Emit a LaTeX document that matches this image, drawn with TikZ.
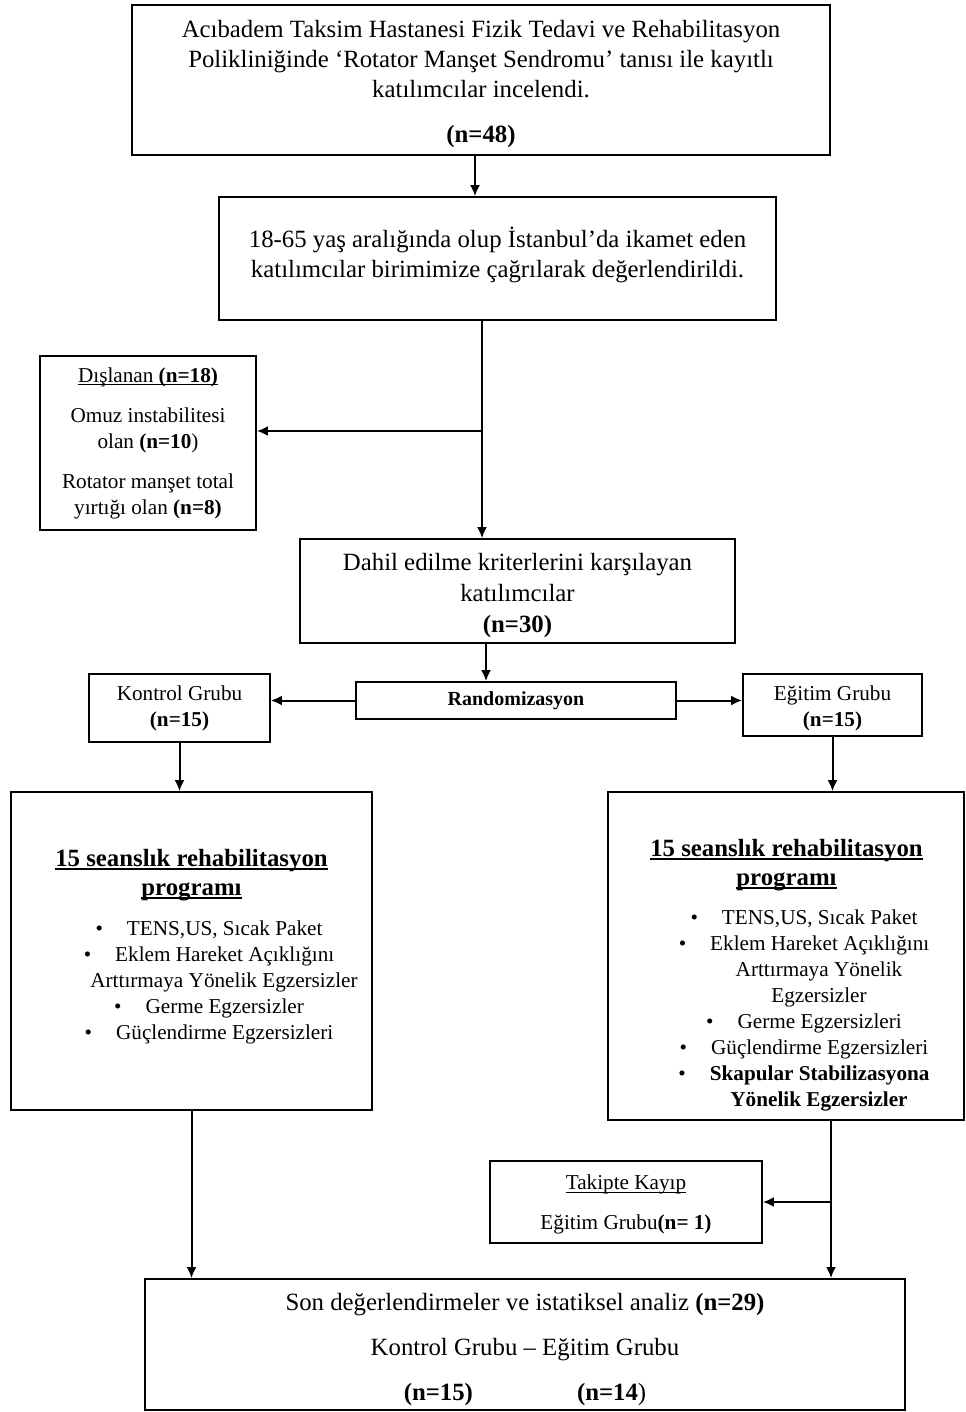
\documentclass[tikz,border=0pt]{standalone}
\usepackage{fontspec}
\setmainfont{Liberation Serif}
\usetikzlibrary{arrows.meta,calc}

\newcommand{\itm}{\textbullet\hspace{12pt}}
\newcommand{\cnt}{\hspace*{15pt}}
\newcommand{\uln}[1]{\setbox0\hbox{#1}\rlap{\rule[-1.6pt]{\wd0}{0.55pt}}\box0}

\begin{document}
\begin{tikzpicture}[x=0.5pt,y=-0.5pt,
  box/.style={draw, line width=0.9pt, inner sep=0pt, align=center},
  flow/.style={-{Latex[length=5.5pt,width=5pt]}, line width=1pt},
  big/.style={font=\fontsize{12.4}{15}\selectfont},
  small/.style={font=\fontsize{10.6}{13}\selectfont}]
  \useasboundingbox (0,0) rectangle (965,1412);

  % registered patients
  \node[box, big, minimum width=349pt, minimum height=75pt] (top) at (481,80)
    {\rule{0pt}{13pt}Acıbadem Taksim Hastanesi Fizik Tedavi ve Rehabilitasyon\\
     Polikliniğinde ‘Rotator Manşet Sendromu’ tanısı ile kayıtlı\\
     katılımcılar incelendi.\\[7.5pt]
     \textbf{(n=48)}};

  \node[box, big, minimum width=278.5pt, minimum height=61.5pt] (eval) at (497.5,258.5)
    {18-65 yaş aralığında olup İstanbul’da ikamet eden\\
     katılımcılar birimimize çağrılarak değerlendirildi.\rule[-6pt]{0pt}{6pt}};

  % excluded
  \node[box, small, minimum width=108pt, minimum height=87pt] (excl) at (148,443)
    {\uln{Dışlanan \textbf{(n=18)}}\\[7pt]
     Omuz instabilitesi\\
     olan \textbf{(n=10})\\[7pt]
     Rotator manşet total\\
     yırtığı olan \textbf{(n=8)}};

  \node[box, font=\fontsize{12.4}{15.5}\selectfont, minimum width=217.5pt, minimum height=52pt] (incl) at (517.5,591)
    {\rule{0pt}{13pt}Dahil edilme kriterlerini karşılayan\\
     katılımcılar\\
     \textbf{(n=30)}};

  \node[box, font=\fontsize{10}{12}\selectfont\bfseries, minimum width=160pt, minimum height=18.5pt] (rand) at (516,700.5)
    {Randomizasyon};

  \node[box, small, minimum width=90.5pt, minimum height=34pt] (ctrl) at (179.5,708)
    {Kontrol Grubu\\ \textbf{(n=15)}};
  \node[box, small, minimum width=89.5pt, minimum height=31pt] (edu) at (832.5,705)
    {\rule{0pt}{11pt}Eğitim Grubu\\ \textbf{(n=15)}};

  % programmes
  \node[box, minimum width=180.5pt, minimum height=159pt] (progK) at (191.5,951) {};
  \node[align=center, font=\fontsize{12.4}{14.5}\selectfont\bfseries] (progKtitle) at (191.5,875)
    {\uln{15 seanslık rehabilitasyon}\\ \uln{programı}};
  \node[small, align=center] (progKlist) at (209,982)
    {\itm TENS,US, Sıcak Paket\\
     \itm Eklem Hareket Açıklığını\\
     \cnt Arttırmaya Yönelik Egzersizler\\
     \itm Germe Egzersizler\\
     \itm Güçlendirme Egzersizleri};

  \node[box, minimum width=178pt, minimum height=164pt] (progE) at (786,956) {};
  \node[align=center, font=\fontsize{12.4}{14.5}\selectfont\bfseries] (progEtitle) at (786.5,865)
    {\uln{15 seanslık rehabilitasyon}\\ \uln{programı}};
  \node[small, align=center] (progElist) at (804,1010)
    {\itm TENS,US, Sıcak Paket\\
     \itm Eklem Hareket Açıklığını\\
     \cnt Arttırmaya Yönelik\\
     \cnt Egzersizler\\
     \itm Germe Egzersizleri\\
     \itm Güçlendirme Egzersizleri\\
     \itm \textbf{Skapular Stabilizasyona}\\
     \cnt \textbf{Yönelik Egzersizler}};

  % lost to follow-up
  \node[box, small, minimum width=136pt, minimum height=41pt] (lost) at (626,1202)
    {\rule{0pt}{10pt}\uln{Takipte Kayıp}\\[7pt]
     Eğitim Grubu\textbf{(n= 1)}};

  \node[box, big, minimum width=380pt, minimum height=65.5pt] (final) at (525,1344.5)
    {\rule{0pt}{14pt}Son değerlendirmeler ve istatiksel analiz \textbf{(n=29)}\\[7.5pt]
     Kontrol Grubu – Eğitim Grubu\\[7.5pt]
     \textbf{(n=15)}\hspace{52pt}\textbf{(n=14})};

  % connectors
  \coordinate (split1) at (482,431);
  \coordinate (split2) at (831,1202);
  \draw[flow] (475,0 |- top.south) -- (475,0 |- eval.north);
  \draw[flow] (482,0 |- eval.south) -- (482,0 |- incl.north);
  \draw[flow] (split1) -- (split1 -| excl.east);
  \draw[flow] (486,0 |- incl.south) -- (486,0 |- rand.north);
  \draw[flow] (rand.west) -- (rand.west -| ctrl.east);
  \draw[flow] (rand.east) -- (rand.east -| edu.west);
  \draw[flow] (ctrl.south) -- (ctrl.south |- progK.north);
  \draw[flow] (edu.south) -- (edu.south |- progE.north);
  \draw[flow] (progK.south) -- (progK.south |- final.north);
  \draw[flow] (831,0 |- progE.south) -- (831,0 |- final.north);
  \draw[flow] (split2) -- (lost.east);
\end{tikzpicture}
\end{document}
